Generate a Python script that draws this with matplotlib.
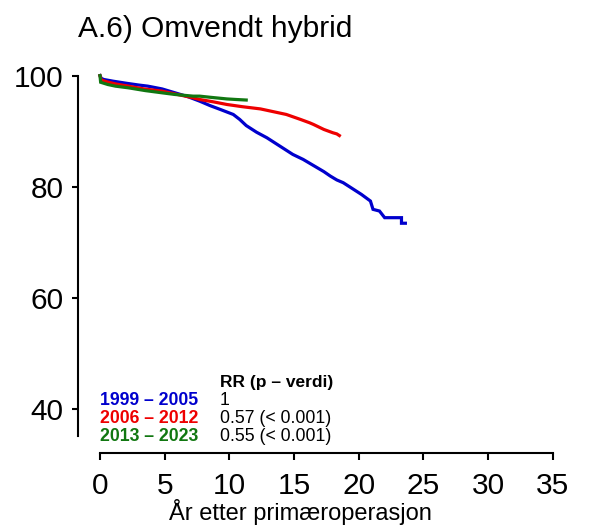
import matplotlib.pyplot as plt

plt.rcParams['font.family'] = ['Liberation Sans', 'DejaVu Sans']

# Kaplan-Meier kurver lest av figuren (år, overlevelse %)
t_1999 = [0, 0.1, 0.3, 1.0, 2.1, 3.0, 3.7, 4.8, 5.8, 6.8, 7.7, 8.5, 9.3, 10.3, 10.8, 11.3,
          12.1, 12.9, 13.9, 14.9, 15.7, 16.5, 17.3, 17.8, 18.3, 18.8, 19.6, 20.2, 20.9,
          21.1, 21.6, 22.0, 23.3, 23.3, 23.6]
s_1999 = [100, 99.5, 99.3, 99.0, 98.6, 98.3, 98.1, 97.6, 96.9, 96.2, 95.4, 94.6, 93.9, 93.0, 92.1, 91.0,
          89.8, 88.8, 87.3, 85.8, 84.9, 83.8, 82.7, 81.9, 81.2, 80.7, 79.5, 78.6, 77.4,
          75.9, 75.6, 74.4, 74.4, 73.4, 73.4]

t_2006 = [0, 0.1, 0.5, 1.2, 2.2, 3.4, 4.8, 6.0, 7.2, 7.7, 8.7, 9.8, 11.0, 12.4, 13.4, 14.4,
          15.5, 16.2, 16.5, 17.3, 18.0, 18.3, 18.5]
s_2006 = [100, 99.2, 98.9, 98.5, 98.1, 97.6, 97.2, 96.6, 96.0, 95.7, 95.3, 94.8, 94.4, 94.0, 93.5, 93.0,
          92.1, 91.5, 91.2, 90.3, 89.7, 89.5, 89.2]

t_2013 = [0, 0.05, 0.6, 1.2, 2.2, 3.5, 4.8, 5.8, 7.2, 7.7, 8.5, 9.8, 10.5, 11.3]
s_2013 = [100, 98.8, 98.4, 98.1, 97.8, 97.3, 96.9, 96.6, 96.3, 96.3, 96.1, 95.8, 95.7, 95.6]

periods = ['1999 – 2005', '2006 – 2012', '2013 – 2023']
rr_text = ['1', '0.57 (< 0.001)', '0.55 (< 0.001)']
colors = ['#0000CD', '#EE0000', '#117711']

fig = plt.figure(figsize=(5.99, 5.26), dpi=100)
ax = fig.add_axes([0.1302, 0.1388, 0.8144, 0.728])

for t, s, c in zip([t_1999, t_2006, t_2013], [s_1999, s_2006, s_2013], colors):
    ax.plot(t, s, color=c, lw=2.3, solid_joinstyle='miter')

ax.set_xlim(-1.7, 36)
ax.set_ylim(32, 101)
ax.set_xticks(range(0, 36, 5))
ax.set_yticks([40, 60, 80, 100])
ax.spines['top'].set_visible(False)
ax.spines['right'].set_visible(False)
ax.spines['left'].set_bounds(35, 100)
ax.spines['bottom'].set_bounds(0, 35)
for sp in ['left', 'bottom']:
    ax.spines[sp].set_linewidth(1.5)
ax.tick_params(axis='both', width=1.5, labelsize=21.5)
ax.tick_params(axis='x', length=5, pad=9)
ax.tick_params(axis='y', length=4.5, pad=6)

fig.text(300 / 599, 1 - 512 / 526, 'År etter primæroperasjon', fontsize=17, ha='center', va='center')
fig.text(0.1302, 1 - 29 / 526, 'A.6) Omvendt hybrid', fontsize=21.5, ha='left', va='center')

# legende
ax.text(9.27, 44.7, 'RR (p – verdi)', fontsize=12.5, fontweight='bold', va='center')
row_y = [41.4, 38.2, 35.0]
for y, p, r, c in zip(row_y, periods, rr_text, colors):
    ax.text(0, y, p, fontsize=12.7, fontweight='bold', color=c, va='center')
    ax.text(9.27, y, r, fontsize=12.7, va='center')

fig.savefig('out.png', dpi=100)
